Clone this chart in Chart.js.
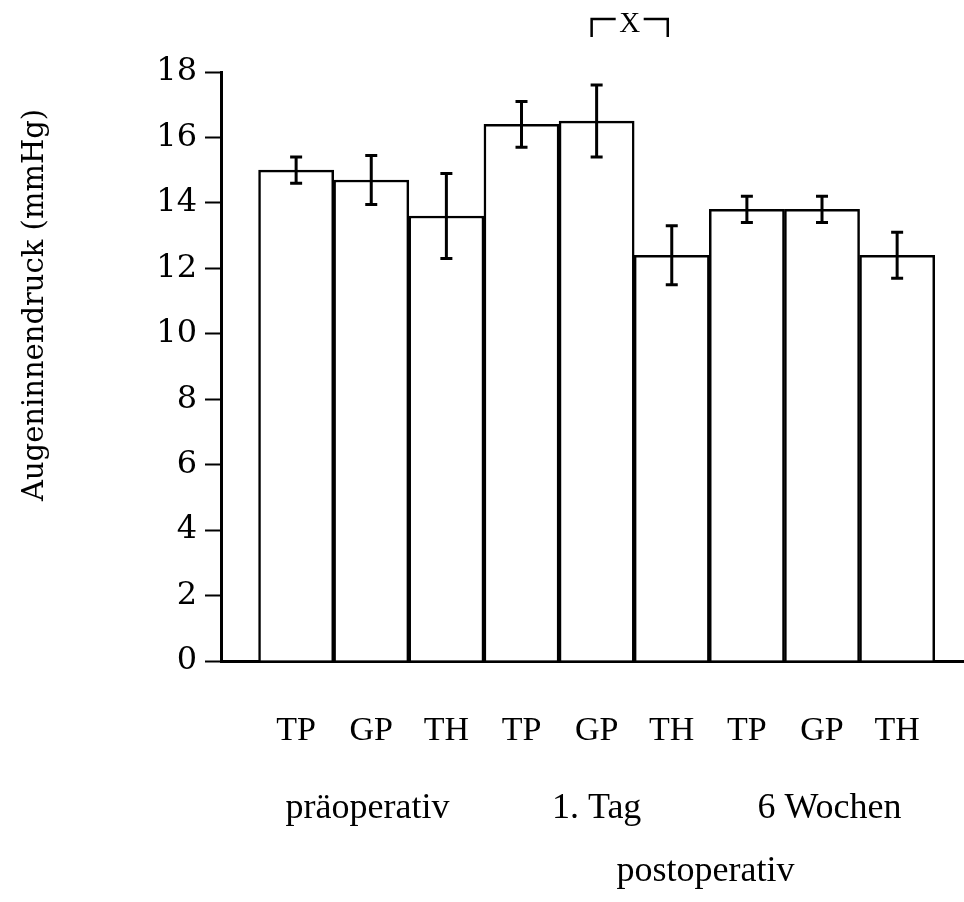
<!DOCTYPE html>
<html>
<head>
<meta charset="utf-8">
<script src="https://cdn.jsdelivr.net/npm/chart.js@4.4.1/dist/chart.umd.min.js"></script>
<style>
  html, body { margin: 0; background: #fff; }
  #wrap { width: 964px; height: 902px; position: relative; }
</style>
</head>
<body>
<div id="wrap"><canvas id="chart"></canvas></div>
<script>
// values
const categories = ['TP', 'GP', 'TH', 'TP', 'GP', 'TH', 'TP', 'GP', 'TH'];
const means  = [15.0, 14.7, 13.6, 16.4, 16.5, 12.4, 13.8, 13.8, 12.4];
const errors = [0.4, 0.75, 1.3, 0.7, 1.1, 0.9, 0.4, 0.4, 0.7];
const yTicks = [0, 2, 4, 6, 8, 10, 12, 14, 16, 18];

const groupLabels = ['präoperativ', '1. Tag', '6 Wochen'];
const groupAt     = [1.95, 5, 8.1];
const periodLabel = 'postoperativ';
const periodAt    = 6.45;
const sigLabel    = 'X';
const sigPair     = [4, 5];
const yTitle      = 'Augeninnendruck (mmHg)';

const xPos = categories.map((_, i) => i + 1);
const serif = "'Liberation Serif', 'Times New Roman', serif";
const tickSerif = "'DejaVu Serif', serif";

const errorBars = {
  id: 'errorBars',
  afterDatasetsDraw(chart) {
    const { ctx } = chart;
    const y = chart.scales.y;
    const meta = chart.getDatasetMeta(0);
    ctx.save();
    ctx.strokeStyle = '#000';
    ctx.lineWidth = 3;
    meta.data.forEach((bar, i) => {
      const top = y.getPixelForValue(means[i] + errors[i]);
      const bot = y.getPixelForValue(means[i] - errors[i]);
      ctx.beginPath();
      ctx.moveTo(bar.x, top); ctx.lineTo(bar.x, bot);
      ctx.moveTo(bar.x - 6, top); ctx.lineTo(bar.x + 6, top);
      ctx.moveTo(bar.x - 6, bot); ctx.lineTo(bar.x + 6, bot);
      ctx.stroke();
    });
    ctx.restore();
  }
};

const extraText = {
  id: 'extraText',
  afterDraw(chart) {
    const { ctx } = chart;
    const x = chart.scales.x;
    const meta = chart.getDatasetMeta(0);
    ctx.save();
    ctx.fillStyle = '#000';

    // y title
    ctx.save();
    ctx.translate(35, 305);
    ctx.rotate(-Math.PI / 2);
    ctx.font = `29px ${tickSerif}`;
    ctx.textAlign = 'center';
    ctx.textBaseline = 'middle';
    ctx.fillText(yTitle, 0, 0);
    ctx.restore();

    // group labels
    ctx.font = `36px ${serif}`;
    ctx.textAlign = 'center';
    ctx.textBaseline = 'alphabetic';
    groupLabels.forEach((g, i) => ctx.fillText(g, x.getPixelForValue(groupAt[i]), 818));
    ctx.fillText(periodLabel, x.getPixelForValue(periodAt), 881);

    // significance bracket
    const x1 = meta.data[sigPair[0]].x - 5;
    const x2 = meta.data[sigPair[1]].x - 4;
    const mid = (x1 + x2) / 2;
    ctx.strokeStyle = '#000';
    ctx.lineWidth = 2.5;
    ctx.beginPath();
    ctx.moveTo(x1, 37); ctx.lineTo(x1, 19); ctx.lineTo(mid - 14, 19);
    ctx.moveTo(mid + 14, 19); ctx.lineTo(x2, 19); ctx.lineTo(x2, 37);
    ctx.stroke();
    ctx.font = `29px ${serif}`;
    ctx.fillText(sigLabel, mid, 32);
    ctx.restore();
  }
};

new Chart(document.getElementById('chart'), {
  type: 'bar',
  data: {
    datasets: [{
      data: xPos.map((p, i) => ({ x: p, y: means[i] })),
      backgroundColor: '#fff',
      borderColor: '#000',
      borderWidth: 2.5,
      categoryPercentage: 1,
      barPercentage: 1
    }]
  },
  options: {
    responsive: true, maintainAspectRatio: false,
    animation: false,
    layout: { padding: { top: 72, right: 0, left: 0, bottom: 0 } },
    plugins: { legend: { display: false }, tooltip: { enabled: false } },
    scales: {
      x: {
        type: 'linear',
        offset: false,
        min: 0, max: 9.89,
        afterBuildTicks: s => { s.ticks = xPos.map(v => ({ value: v })); },
        afterFit: s => { s.height = 241; },
        grid: { display: false, drawTicks: false, offset: false },
        border: { color: '#000', width: 3 },
        ticks: {
          autoSkip: false, maxRotation: 0, padding: 0,
          color: '#000', font: { family: serif, size: 34, lineHeight: '140px' },
          callback: (v, i) => categories[i]
        }
      },
      y: {
        min: 0, max: 18,
        afterBuildTicks: s => { s.ticks = yTicks.map(v => ({ value: v })); },
        afterFit: s => { s.width = 221; },
        grid: { drawOnChartArea: false, tickLength: 16, tickColor: '#000', tickWidth: 2 },
        border: { color: '#000', width: 3 },
        ticks: { color: '#000', padding: 8, font: { family: tickSerif, size: 32 } }
      }
    }
  },
  plugins: [errorBars, extraText]
});
</script>
</body>
</html>
